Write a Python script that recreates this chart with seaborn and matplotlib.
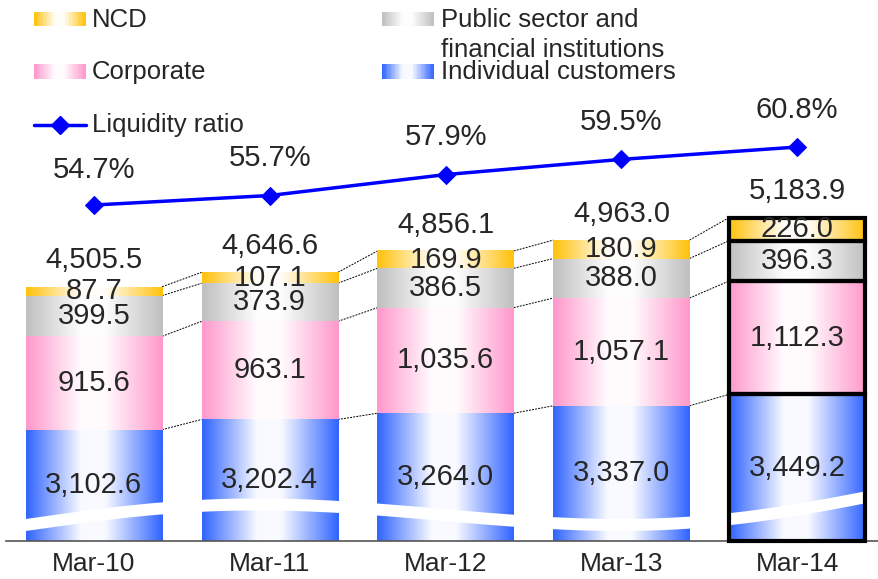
import numpy as np
import matplotlib
matplotlib.use("Agg")
import matplotlib.pyplot as plt
import matplotlib.transforms as mtransforms
from matplotlib.colors import to_rgb
from matplotlib.patches import Rectangle, Polygon
from matplotlib.lines import Line2D
import seaborn as sns

# data (values in the chart)
periods = ["Mar-10", "Mar-11", "Mar-12", "Mar-13", "Mar-14"]
individual = [3102.6, 3202.4, 3264.0, 3337.0, 3449.2]
corporate = [915.6, 963.1, 1035.6, 1057.1, 1112.3]
public_fin = [399.5, 373.9, 386.5, 388.0, 396.3]
ncd = [87.7, 107.1, 169.9, 180.9, 226.0]
totals = [4505.5, 4646.6, 4856.1, 4963.0, 5183.9]
liquidity = [54.7, 55.7, 57.9, 59.5, 60.8]

series = [
    ("Individual customers", individual, "#3366FF"),
    ("Corporate", corporate, "#FF99CC"),
    ("Public sector and financial institutions", public_fin, "#C0C0C0"),
    ("NCD", ncd, "#FFC20E"),
]

W, H = 879, 579
Y0 = 2010          # broken axis: bars start at this value
PX_PER_UNIT = 0.1019


def gradient(color, n=64):
    c = np.array(to_rgb(color))
    t = np.linspace(0, 1, n)
    w = np.interp(t, [0, 0.4, 0.58, 1], [0, 1, 1, 0]) * 0.97
    return c + (1 - c) * w[:, None]


sns.set_style("white")
plt.rcParams["font.family"] = ["Liberation Sans", "DejaVu Sans"]

fig = plt.figure(figsize=(W / 100, H / 100), dpi=100)
ax = fig.add_axes([6 / W, 1 - 541 / H, 1 - 6 / W, 541 / H])
px = mtransforms.Affine2D().scale(1 / W, -1 / H).translate(0, 1) + fig.transFigure

# stacked bars, gradient filled
bottom = np.zeros(len(periods))
bounds = []
geo = []
for i, (name, vals, col) in enumerate(series):
    top = bottom + np.array(vals)
    n_before = len(ax.patches)
    sns.barplot(x=periods, y=top, color=col, width=0.775, errorbar=None, ax=ax, zorder=2)
    grad = gradient(col)[None, :, :]
    for j, p in enumerate(ax.patches[n_before:]):
        x0, w = p.get_x(), p.get_width()
        ax.imshow(grad, extent=(x0, x0 + w, bottom[j], top[j]), aspect="auto",
                  interpolation="bilinear", zorder=2)
        p.set_facecolor("none")
        p.set_edgecolor("none")
        if i == 0:
            geo.append((x0, w))
        lab_lo = max(bottom[j], Y0)
        ax.text(x0 + w / 2, (lab_lo + top[j]) / 2, f"{vals[j]:,.1f}", ha="center",
                va="center", fontsize=21, zorder=10)
    bounds.append((bottom.copy(), top.copy()))
    # connector lines between bars
    for j in range(len(periods) - 1):
        ax.plot([geo[j][0] + geo[j][1], geo[j + 1][0]], [top[j], top[j + 1]],
                color="black", lw=0.7, ls=(0, (2, 1.2)), zorder=1)
    bottom = top

ax.set_ylim(Y0, Y0 + 541 / PX_PER_UNIT)
ax.set_xlim(-0.5, 4.465)

# totals above bars
for j, t in enumerate(totals):
    ax.annotate(f"{t:,.1f}", (j, bottom[j]), xytext=(0, 19), textcoords="offset points",
                ha="center", va="center", fontsize=21, zorder=10)

# white wavy band (axis break)
wave_x = [26, 162, 202, 270, 338, 378, 514, 553, 690, 727, 867]
wave_y = [519, 502, 500, 499, 501, 503, 515, 517, 517, 513, 491]
coef = np.polyfit(wave_x, wave_y, 5)
xx = np.linspace(0, W, 200)
yy = np.polyval(coef, xx)
band = np.vstack([np.column_stack([xx, yy]), np.column_stack([xx[::-1], yy[::-1] + 12])])
ax.add_patch(Polygon(band, closed=True, transform=px, facecolor="white",
                     edgecolor="none", clip_on=False, zorder=5))

# highlight latest period
x0, w = geo[-1]
for lo, hi in bounds:
    b = max(lo[-1], Y0)
    ax.add_patch(Rectangle((x0, b), w, hi[-1] - b, facecolor="none", edgecolor="black",
                           lw=3, clip_on=False, zorder=8))

# axis styling
for s in ["left", "right", "top"]:
    ax.spines[s].set_visible(False)
ax.spines["bottom"].set_color("#555555")
ax.spines["bottom"].set_linewidth(1.2)
ax.set_yticks([])
ax.set_xlabel("")
ax.set_xticks([-0.5, 0.5, 1.5, 2.5, 3.5], minor=True)
ax.tick_params(axis="x", which="major", length=0, pad=8, labelsize=19)
ax.tick_params(axis="x", which="minor", direction="in", length=7, color="#555555", width=1.2)

# liquidity ratio line
ax2 = ax.twinx()
sns.lineplot(x=periods, y=liquidity, ax=ax2, color="#0000FF", lw=2.5, marker="D",
             markersize=9.5, markeredgecolor="#0000FF")
ax2.set_ylim(19.37, 76.26)
for s in ax2.spines.values():
    s.set_visible(False)
ax2.set_yticks([])
ax2.set_ylabel("")
for j, v in enumerate(liquidity):
    ax2.annotate(f"{v:.1f}%", (j, v), xytext=(0, 25.5 if j == 0 else 27),
                 textcoords="offset points", ha="center", va="center", fontsize=21)


# legend drawn in figure pixels
def swatch(xa, ya, xb, yb, color, n=40):
    g = gradient(color, n)
    xs = np.linspace(xa, xb, n + 1)
    for k in range(n):
        fig.add_artist(Rectangle((xs[k], ya), xs[k + 1] - xs[k] + 0.4, yb - ya, transform=px,
                                 facecolor=g[k], edgecolor="none", antialiased=False))


swatch(34, 12, 86, 26, "#FFC20E")
fig.text(92 / W, 1 - 27 / H, "NCD", fontsize=18.5, va="baseline")
swatch(34, 64, 86, 79, "#FF99CC")
fig.text(92 / W, 1 - 79 / H, "Corporate", fontsize=18.5, va="baseline")
fig.add_artist(Line2D([34, 86], [125, 125], transform=px, color="#0000FF", lw=2.5))
fig.add_artist(Line2D([60], [125], transform=px, color="#0000FF", marker="D", ms=9.5))
fig.text(92 / W, 1 - 132 / H, "Liquidity ratio", fontsize=18.5, va="baseline")
swatch(382, 12, 434, 26, "#C0C0C0")
fig.text(441 / W, 1 - 27 / H, "Public sector and", fontsize=18.5, va="baseline")
fig.text(441 / W, 1 - 57 / H, "financial institutions", fontsize=18.5, va="baseline")
swatch(382, 64, 434, 79, "#3366FF")
fig.text(441 / W, 1 - 79 / H, "Individual customers", fontsize=18.5, va="baseline")

fig.savefig("out.png", dpi=100)
